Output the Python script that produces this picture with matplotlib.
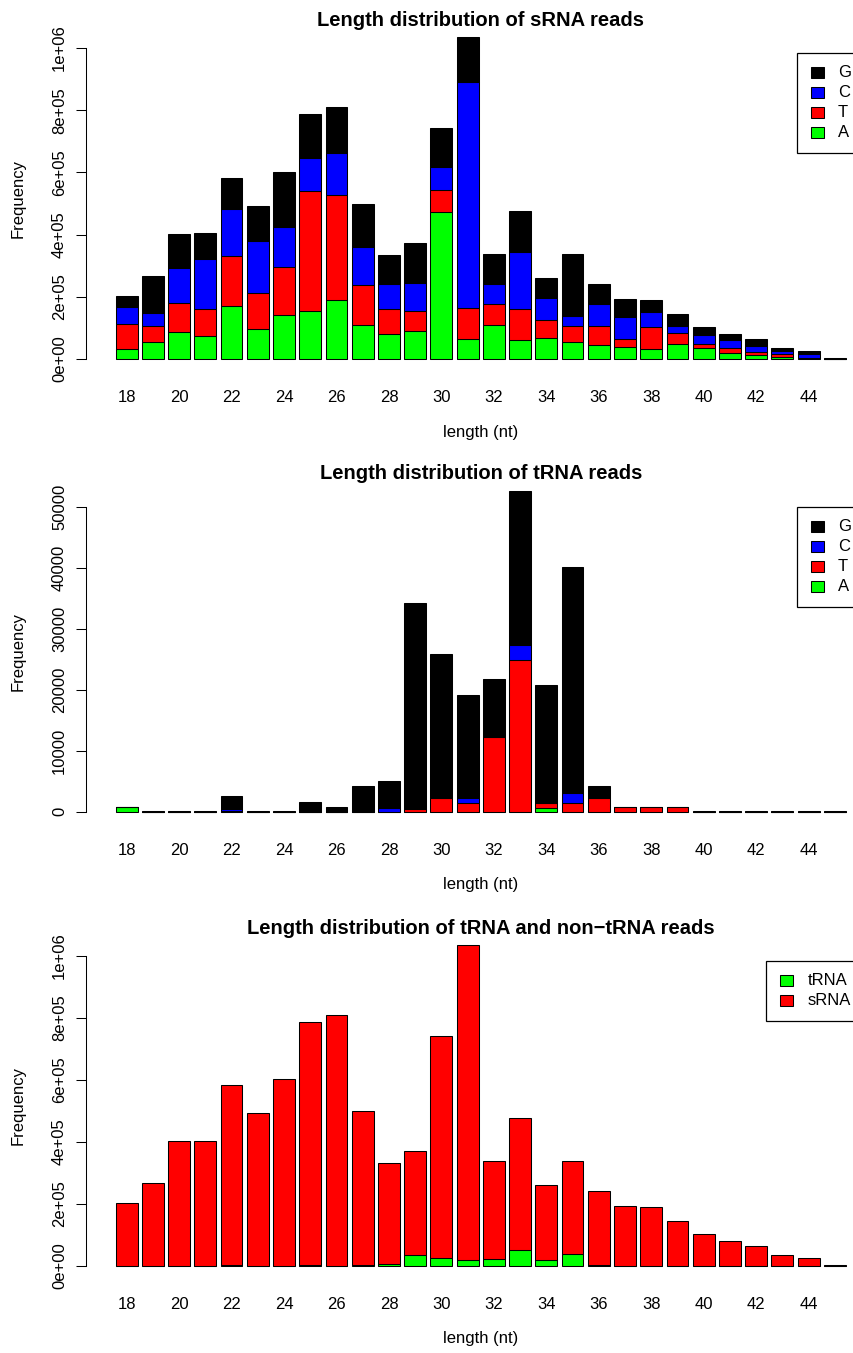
import numpy as np
import matplotlib
matplotlib.use("Agg")
import matplotlib.pyplot as plt
from matplotlib.patches import Rectangle

plt.rcParams['font.family'] = ['Liberation Sans', 'DejaVu Sans']

lengths = list(range(18, 46))
tick_labels = [str(n) if n % 2 == 0 and n < 45 else '' for n in lengths]

# sRNA reads by first base (A, T, C, G)
srna_A = [32200, 53600, 87900, 74000, 169300, 96500, 141500, 153300, 189700, 110400,
          79300, 90000, 471600, 64300, 109300, 60000, 66500, 55700, 45000, 37500,
          32200, 48200, 36400, 18200, 11800, 6400, 2000, 300]
srna_T = [81400, 53600, 92200, 86800, 163000, 114600, 154300, 385800, 337600, 127500,
          82500, 63300, 70700, 99700, 67500, 101800, 60000, 50400, 61100, 27900,
          70700, 34300, 11800, 18200, 11800, 8600, 2500, 300]
srna_C = [54700, 39600, 112500, 160700, 148900, 168300, 129700, 108300, 135100, 123300,
          80400, 92100, 75100, 726700, 63300, 181200, 70700, 33200, 71800, 69700,
          49300, 24600, 27900, 25700, 18200, 10700, 11600, 400]
srna_G = [33200, 121200, 109300, 82600, 101900, 112600, 176900, 140400, 146800, 137200,
          91100, 126500, 125400, 143600, 97500, 132900, 63300, 199400, 63300, 59000,
          38600, 37500, 26800, 19300, 22500, 10700, 8600, 1000]

# tRNA reads by first base
trna_A = [700, 0, 0, 0, 30, 0, 0, 0, 0, 0, 0, 0, 0, 0,
          0, 0, 600, 0, 0, 0, 0, 0, 0, 0, 0, 0, 0, 0]
trna_T = [20, 0, 0, 0, 30, 0, 0, 20, 10, 30, 30, 500, 2190, 1480,
          12270, 24860, 800, 1480, 2240, 700, 700, 700, 0, 0, 0, 0, 0, 0]
trna_C = [20, 0, 0, 0, 450, 0, 0, 10, 10, 20, 500, 50, 50, 710,
          50, 2460, 50, 1640, 50, 20, 20, 20, 0, 0, 0, 0, 0, 0]
trna_G = [60, 80, 80, 80, 2010, 60, 60, 1610, 800, 4110, 4450, 33730, 23660, 16980,
          9420, 25360, 19410, 37020, 1870, 50, 50, 50, 50, 50, 50, 50, 50, 50]

# tRNA vs non-tRNA
trna_total = [800, 80, 80, 80, 2520, 60, 60, 1640, 820, 4160, 4980, 34280, 25900, 19170,
              21740, 52680, 20860, 40140, 4160, 770, 770, 770, 50, 50, 50, 50, 50, 50]
other_total = [200700, 267920, 401820, 404020, 580580, 491940, 602340, 786160, 808380,
               494240, 328320, 337620, 716900, 1015130, 315860, 423220, 239640, 298560,
               237040, 193230, 190030, 143930, 102850, 81450, 64250, 36350, 24650, 1950]

W, H = 854, 1353
fig = plt.figure(figsize=(W / 100, H / 100), dpi=100)

def fx(x):
    return x / W

def fy(y):
    return 1 - y / H

x = np.arange(len(lengths)) * 1.2 + 0.7
xlim = (-1.136, 34.936)
left_px, right_px = 86.5, 875.0


def make_axes(zero_px, scale, ymax):
    lo, hi = -0.04 * ymax, 1.04 * ymax
    bottom_px = zero_px - lo * scale
    top_px = zero_px - hi * scale
    ax = fig.add_axes([fx(left_px), fy(bottom_px), (right_px - left_px) / W,
                       (bottom_px - top_px) / H])
    ax.set_xlim(*xlim)
    ax.set_ylim(lo, hi)
    for s in ['top', 'right', 'bottom']:
        ax.spines[s].set_visible(False)
    ax.patch.set_visible(False)
    return ax


def finish(ax, yticks, ylabels, title, title_y, lab_y):
    ax.spines['left'].set_bounds(yticks[0], yticks[-1])
    ax.spines['left'].set_linewidth(0.75)
    ax.set_yticks(yticks)
    ax.set_yticklabels(ylabels, rotation=90, va='center', fontsize=12)
    ax.tick_params(axis='y', length=7, width=0.75, pad=7)
    ax.set_xticks(x)
    ax.set_xticklabels(tick_labels, fontsize=12)
    ax.tick_params(axis='x', length=0, pad=13)
    fig.text(fx(480.7), fy(title_y), title, ha='center', va='baseline',
             fontsize=14.5, fontweight='bold')
    fig.text(fx(480.7), fy(lab_y), 'length (nt)', ha='center', va='center', fontsize=12)
    mid = (ax.get_position().y0 + ax.get_position().y1) / 2
    fig.text(fx(18), mid, 'Frequency', rotation=90, ha='center', va='center', fontsize=12)


def legend_box(x0, y0, y1, rows, sq_x, txt_x, row0):
    fig.add_artist(Rectangle((fx(x0), fy(y1)), fx(200), (y1 - y0) / H,
                             transform=fig.transFigure, facecolor='white',
                             edgecolor='black', linewidth=0.9))
    for i, (lab, col) in enumerate(rows):
        yy = row0 + 20 * i
        fig.add_artist(Rectangle((fx(sq_x - 6.5), fy(yy + 5.5)), fx(13), 11 / H,
                                 transform=fig.transFigure, facecolor=col,
                                 edgecolor='black', linewidth=0.75))
        fig.text(fx(txt_x), fy(yy), lab, ha='left', va='center', fontsize=12)


bw = 1.0
ec = dict(edgecolor='black', linewidth=0.75)

# panel 1
A, T, C, G = map(np.array, (srna_A, srna_T, srna_C, srna_G))
tot1 = A + T + C + G
ax1 = make_axes(359.0, 311.0 / 1e6, tot1.max())
ax1.bar(x, A, bw, color='#00FF00', **ec)
ax1.bar(x, T, bw, bottom=A, color='#FF0000', **ec)
ax1.bar(x, C, bw, bottom=A + T, color='#0000FF', **ec)
ax1.bar(x, G, bw, bottom=A + T + C, color='black', **ec)
finish(ax1, [0, 2e5, 4e5, 6e5, 8e5, 1e6],
       ['0e+00', '2e+05', '4e+05', '6e+05', '8e+05', '1e+06'],
       'Length distribution of sRNA reads', 26, 433)
legend_box(796.7, 52.7, 153.3, [('G', 'black'), ('C', '#0000FF'), ('T', '#FF0000'), ('A', '#00FF00')],
           817.7, 838, 72.7)

# panel 2
A, T, C, G = map(np.array, (trna_A, trna_T, trna_C, trna_G))
tot2 = A + T + C + G
ax2 = make_axes(811.7, 304.4 / 5e4, tot2.max())
ax2.bar(x, A, bw, color='#00FF00', **ec)
ax2.bar(x, T, bw, bottom=A, color='#FF0000', **ec)
ax2.bar(x, C, bw, bottom=A + T, color='#0000FF', **ec)
ax2.bar(x, G, bw, bottom=A + T + C, color='black', **ec)
finish(ax2, [0, 10000, 20000, 30000, 40000, 50000],
       ['0', '10000', '20000', '30000', '40000', '50000'],
       'Length distribution of tRNA reads', 479, 884)
legend_box(796.7, 506.7, 606.7, [('G', 'black'), ('C', '#0000FF'), ('T', '#FF0000'), ('A', '#00FF00')],
           817.7, 838, 526.7)

# panel 3
tr, ot = np.array(trna_total), np.array(other_total)
ax3 = make_axes(1266.0, 310.3 / 1e6, (tr + ot).max())
ax3.bar(x, tr, bw, color='#00FF00', **ec)
ax3.bar(x, ot, bw, bottom=tr, color='#FF0000', **ec)
finish(ax3, [0, 2e5, 4e5, 6e5, 8e5, 1e6],
       ['0e+00', '2e+05', '4e+05', '6e+05', '8e+05', '1e+06'],
       'Length distribution of tRNA and non\u2212tRNA reads', 934.3, 1338)
legend_box(765.7, 960.7, 1020.7, [('tRNA', '#00FF00'), ('sRNA', '#FF0000')],
           786.7, 807.7, 980.7)

fig.savefig('out.png', dpi=100)
